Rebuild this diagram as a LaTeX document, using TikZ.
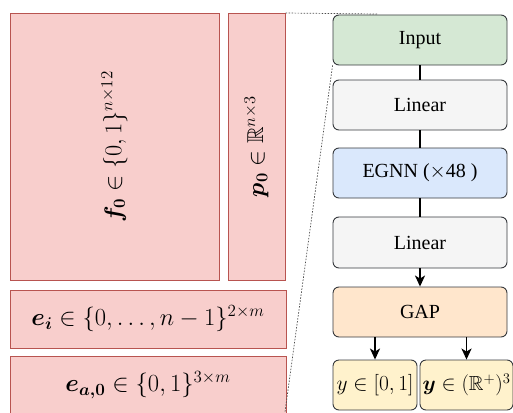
\documentclass[tikz,border=0pt]{standalone}
\usepackage{amsmath,amssymb,bm,graphicx}
\usepackage{fontspec}
\setmainfont{Liberation Serif}
\usetikzlibrary{arrows.meta}
\definecolor{redfill}{HTML}{F8CECC}
\definecolor{redline}{HTML}{B85450}
\definecolor{greenfill}{HTML}{D5E8D4}
\definecolor{grayfill}{HTML}{F5F5F5}
\definecolor{bluefill}{HTML}{DAE8FC}
\definecolor{orangefill}{HTML}{FFE6CC}
\definecolor{yellowfill}{HTML}{FFF2CC}
\definecolor{boxline}{HTML}{36393D}
\tikzset{
  databox/.style={draw=redline, fill=redfill, line width=0.9pt, inner sep=0pt,
    font=\fontsize{20}{24}\selectfont},
  flowbox/.style={draw=boxline, rounded corners=6pt, line width=0.9pt, inner sep=0pt,
    minimum width=174pt, minimum height=50pt, font=\fontsize{20}{24}\selectfont},
  link/.style={line width=1.8pt, black},
  arr/.style={link, -{Stealth[length=11pt,width=10pt,inset=3pt]}},
  zoomline/.style={draw=black!70, line width=0.7pt, dash pattern=on 1.5pt off 1.5pt}
}
\begin{document}
\begin{tikzpicture}[x=1pt,y=-1pt]
\useasboundingbox (0,0) rectangle (513,412);
\clip (0,0) rectangle (513,412);
% left data boxes
\node[databox, rotate=90, minimum width=267pt, minimum height=209pt] (f) at (114.5,146.5)
  {\resizebox{151pt}{!}{$\bm{f_0}\in\{0,1\}^{n\times 12}$}};
\node[databox, rotate=90, minimum width=267pt, minimum height=57pt] (p) at (256.5,146.5)
  {\resizebox{101pt}{!}{$\bm{p_0}\in\mathbb{R}^{n\times 3}$}};
\node[databox, minimum width=276pt, minimum height=58pt] (ei) at (148,319)
  {\resizebox{233pt}{!}{$\bm{e_i}\in\{0,\ldots,n-1\}^{2\times m}$}};
\node[databox, minimum width=276pt, minimum height=58pt] (ea) at (148,385)
  {\resizebox{165pt}{!}{$\bm{e_{a,0}}\in\{0,1\}^{3\times m}$}};
% right flow
\node[flowbox, fill=greenfill] (in) at (420,40) {Input};
\node[flowbox, fill=grayfill] (lin1) at (420,105) {Linear};
\node[flowbox, fill=bluefill] (egnn) at (420,173) {EGNN ($\times$48 )};
\node[flowbox, fill=grayfill, minimum height=51pt] (lin2) at (420,242.5) {Linear};
\node[flowbox, fill=orangefill] (gap) at (420,312) {GAP};
\node[flowbox, fill=yellowfill, minimum width=84pt] (y1) at (375,385)
  {\resizebox{77pt}{!}{$y\in[0,1]$}};
\node[flowbox, fill=yellowfill, minimum width=93pt] (y2) at (466.5,385)
  {\resizebox{88pt}{!}{$\bm{y}\in(\mathbb{R}^{+})^{3}$}};
% connectors
\draw[link] (in) -- (lin1);
\draw[link] (lin1) -- (egnn);
\draw[link] (egnn) -- (lin2);
\draw[arr] (lin2) -- (gap);
\draw[arr] (y1 |- gap.south) -- (y1.north);
\draw[arr] (y2 |- gap.south) -- (y2.north);
% zoom lines
\coordinate (zt1) at (285.5,13);
\coordinate (zt2) at (377,14);
\coordinate (zb) at (285,412);
\draw[zoomline] (zt1) -- (zt2);
\draw[zoomline] (in.south west) -- (zb);
\end{tikzpicture}
\end{document}
